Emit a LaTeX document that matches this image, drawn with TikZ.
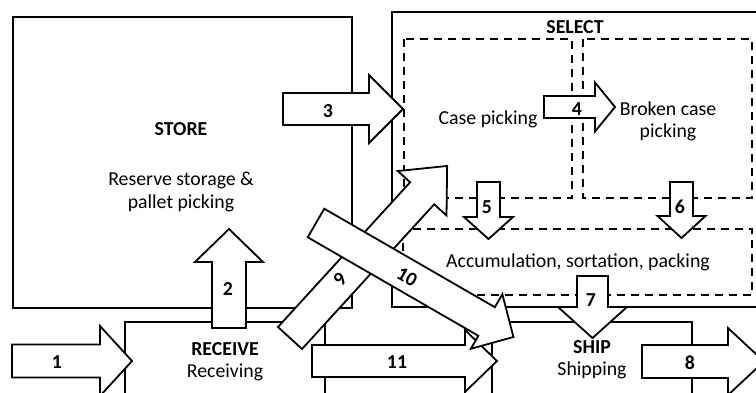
\documentclass[tikz,border=0pt]{standalone}
\usepackage{fontspec}
\setmainfont{Carlito}
\newcommand{\blockarrow}[7]{%
  \begin{scope}[shift={(#1,#2)},rotate=#3]
    \draw[arr] (0,-#5) -- ({#4-#7},-#5) -- ({#4-#7},-#6) -- (#4,0) -- ({#4-#7},#6) -- ({#4-#7},#5) -- (0,#5) -- cycle;
  \end{scope}}
\begin{document}
\begin{tikzpicture}[x=1pt,y=-1pt,line join=miter,
  box/.style={draw=black,line width=1.8pt},
  dbox/.style={draw=black,line width=1.8pt,dash pattern=on 8pt off 6pt},
  arr/.style={draw=black,fill=white,line width=1.8pt},
  txt/.style={font=\fontsize{19.8}{23}\selectfont,inner sep=0pt,anchor=base},
  ttl/.style={txt,font=\fontsize{19.8}{23}\selectfont\bfseries},
  lbl/.style={ttl}]
\useasboundingbox (0,0) rectangle (756,392);
\fill[white] (0,0) rectangle (756,392);
\clip (0,0) rectangle (756,392);
% main boxes
\draw[box] (13,17) rectangle (352,308);
\draw[box] (392,12) rectangle (800,307);
\draw[dbox] (404,39) rectangle (572,198);
\draw[dbox] (583,39) rectangle (752,198);
\draw[dbox] (403,229) rectangle (752,295);
\draw[box] (125,322) rectangle (325,420);
\draw[box] (492,322) rectangle (692,420);
% block arrows
\blockarrow{12}{361}{0}{120}{16.5}{35}{32}
\blockarrow{229}{328}{90}{99}{17}{34}{33}
\blockarrow{283}{109}{0}{120}{16}{34}{34}
\blockarrow{544}{107}{0}{71}{11}{24.5}{20}
\blockarrow{488.5}{182}{-90}{57}{11.5}{24.5}{22}
\blockarrow{681.5}{182}{-90}{56}{11.5}{24}{22}
\blockarrow{592.5}{276}{-90}{62}{15.5}{34.5}{31}
\blockarrow{642}{361.5}{0}{122}{16.5}{33.5}{36}
\blockarrow{312}{361}{0}{185}{16}{31}{32}
\blockarrow{290}{338}{47.6}{233}{16.3}{33}{37}
\blockarrow{316}{223}{-30}{228}{16.5}{31.5}{31}
% texts
\node[ttl] (store) at (181,135) {STORE};
\node[txt] (store1) at (181,185) {Reserve storage \&};
\node[txt] (store2) at (181,208) {pallet picking};
\node[ttl] (select) at (575,33) {SELECT};
\node[txt] (case) at (488,124) {Case picking};
\node[txt] (broken1) at (668,115) {Broken case};
\node[txt] (broken2) at (668,137) {picking};
\node[txt] (accum) at (578,267) {Accumulation, sortation, packing};
\node[ttl] (receive) at (225,355) {RECEIVE};
\node[txt] (receive1) at (225,377) {Receiving};
\node[ttl] (ship) at (592,353) {SHIP};
\node[txt] (ship1) at (592,375) {Shipping};
% arrow labels
\node[lbl] (l1) at (57,368) {1};
\node[lbl] (l2) at (228,295) {2};
\node[lbl] (l3) at (328,117) {3};
\node[lbl] (l4) at (577,115) {4};
\node[lbl] (l5) at (487,213) {5};
\node[lbl] (l6) at (680,213) {6};
\node[lbl] (l7) at (591,306) {7};
\node[lbl] (l8) at (690,369) {8};
\node[lbl] (l11) at (397,368) {11};
\node[lbl,anchor=center,rotate=47.6] (l9) at (340,279) {9};
\node[lbl,anchor=center,rotate=-30] (l10) at (407,277) {10};
\end{tikzpicture}
\end{document}
